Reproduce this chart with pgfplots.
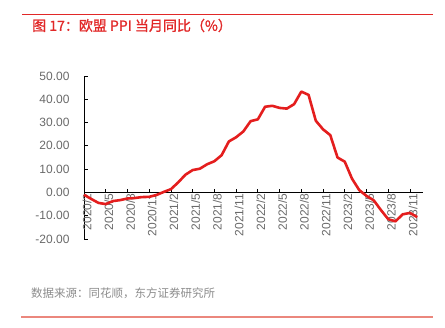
\documentclass[border=0pt]{standalone}
\usepackage{pgfplots}
\pgfplotsset{compat=1.18}
\usepackage{pgfplotstable}
\usepackage{fontspec}
\setmainfont{Liberation Sans}
\newfontfamily\cjk{Noto Sans CJK SC}
\newfontfamily\cjkb[FakeBold=1.2]{Noto Sans CJK SC}
\definecolor{lred}{RGB}{228,30,30}
\definecolor{tred}{RGB}{225,40,40}
\definecolor{salmon}{RGB}{235,135,125}
\definecolor{lgray}{RGB}{105,105,105}
\definecolor{sgray}{RGB}{140,140,140}
\pgfplotstableread{
x y
0 -1.0
1 -2.8
2 -4.5
3 -5.0
4 -3.7
5 -3.3
6 -2.6
7 -2.4
8 -2.0
9 -1.9
10 -1.1
11 0.2
12 1.4
13 4.3
14 7.6
15 9.6
16 10.2
17 12.1
18 13.4
19 16.0
20 21.9
21 23.7
22 26.2
23 30.6
24 31.4
25 36.8
26 37.2
27 36.3
28 36.0
29 37.9
30 43.3
31 41.9
32 30.8
33 27.1
34 24.6
35 15.0
36 13.2
37 5.9
38 1.0
39 -1.5
40 -3.4
41 -7.6
42 -11.5
43 -12.4
44 -9.4
45 -8.8
46 -10.6
}\ppi
\begin{document}
\begin{tikzpicture}
\useasboundingbox (0,0) rectangle (445bp,-328bp);
\draw[color=tred, line width=0.9bp] (22bp,-14bp) -- (433bp,-14bp);
\node[anchor=west, text=tred, inner sep=0pt, font=\cjkb\fontsize{14bp}{14bp}\selectfont] at (32bp,-25.5bp) {图 17：欧盟 PPI 当月同比（\%）};
\node[anchor=west, text=sgray, inner sep=0pt, font=\cjk\fontsize{11.5bp}{11.5bp}\selectfont] at (31bp,-293bp) {数据来源：同花顺，东方证券研究所};
\draw[color=salmon, line width=1.2bp] (21bp,-317bp) -- (433bp,-317bp);
\begin{axis}[
  at={(84bp,-239bp)}, anchor=south west,
  scale only axis, width=339bp, height=163bp,
  xmin=0, xmax=46.8, ymin=-20, ymax=50,
  axis x line=middle, axis y line=left,
  hide obscured x ticks=false,
  axis line style={-, black, line width=0.8bp},
  tick style={black, line width=0.8bp},
  major tick length=3.5bp,
  tick align=inside,
  xtick={0,3,...,45},
  xticklabels={2020/2,2020/5,2020/8,2020/11,2021/2,2021/5,2021/8,2021/11,2022/2,2022/5,2022/8,2022/11,2023/2,2023/5,2023/8,2023/11},
  xticklabel style={rotate=90, anchor=east, text=lgray, font=\fontsize{12bp}{12bp}\selectfont, inner sep=1bp, yshift=-3bp},
  ytick={-20,-10,...,50},
  yticklabel style={text=lgray, font=\fontsize{12bp}{12bp}\selectfont, anchor=east, xshift=-11bp,
    /pgf/number format/.cd, fixed, fixed zerofill, precision=2, assume math mode=true},
  clip=false,
]
\addplot[color=lred, line width=2.6bp, line join=round] table[x=x,y=y] {\ppi};
\end{axis}
\end{tikzpicture}
\end{document}
